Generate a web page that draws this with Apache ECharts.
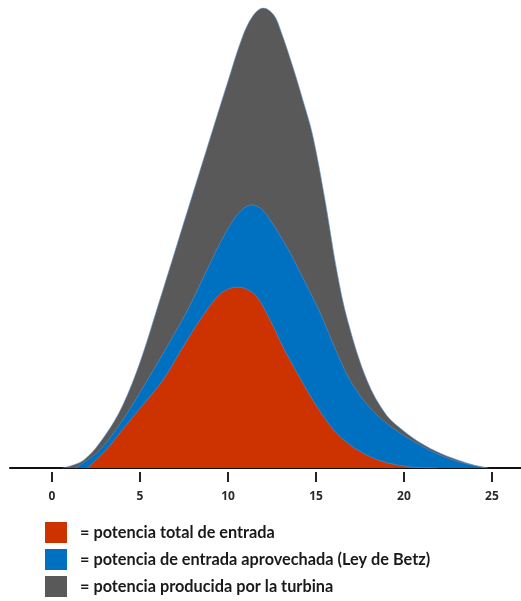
<!DOCTYPE html>
<html>
<head>
<meta charset="utf-8">
<script src="https://cdn.jsdelivr.net/npm/echarts@6/dist/echarts.min.js"></script>
<style>html,body{margin:0;padding:0;background:#fff}#c{width:521px;height:601px}</style>
</head>
<body>
<div id="c"></div>
<script>
// wind speed (x) and relative power (y)
const tickValues = [0, 5, 10, 15, 20, 25];
const seriesNames = [
  'potencia total de entrada',
  'potencia de entrada aprovechada (Ley de Betz)',
  'potencia producida por la turbina'
];
const redX  = [2.0, 3.0, 4.0, 5.0, 6.3, 7.44, 8.41, 9.38, 10.0, 10.57, 11.1, 11.65, 12.39, 13.13, 13.92, 15.2, 16.4, 18.1, 20.0, 21.9];
const redY  = [0, 3.6, 8.3, 13, 19.1, 26.3, 32.2, 37.2, 38.9, 39.3, 38.8, 37.2, 32.2, 26.3, 20.7, 12.5, 6.7, 2.4, 0.4, 0];
const blueX = [1.3, 2.6, 3.9, 5.4, 6.7, 7.8, 8.4, 9.55, 10.3, 10.9, 11.36, 11.9, 12.4, 13.35, 14.1, 15.2, 16.2, 17.1, 18.6, 20.9, 22.8, 24.7];
const blueY = [0, 3.5, 9.8, 19, 27.5, 35, 39.8, 48.9, 53.9, 56.5, 57.2, 56.3, 53.9, 48, 42.5, 34, 25, 18, 11, 5, 1.7, 0];
const grayX = [0.6, 1.8, 3.0, 4.0, 5.0, 6.0, 7.0, 8.0, 9.0, 10.0, 10.8, 11.4, 12.0, 12.6, 13.0, 13.7, 14.25, 14.8, 15.5, 16.2, 16.8, 17.9, 19.0, 20.0, 21.0, 22.0, 23.0, 24.0, 24.8];
const grayY = [0, 1.7, 7, 13.5, 23, 35, 47.3, 59.6, 71.9, 84.1, 93.5, 98.2, 100, 98.5, 95, 87, 80, 72.5, 58.5, 42.5, 32, 19, 11.5, 8, 5.3, 3.3, 1.8, 0.6, 0];

const colors = ['#cc3300', '#0070c0', '#595959'];
function pairs(xs, ys) { return xs.map((x, i) => [x, ys[i]]); }

const chart = echarts.init(document.getElementById('c'), null, {renderer: 'canvas'});
const xMin = -2.39, xMax = 26.65;
function areaSeries(name, data, color) {
  return {
    name: name, type: 'line', data: data, smooth: 0.35, showSymbol: false,
    xAxisIndex: 0, yAxisIndex: 0,
    lineStyle: {width: 1, color: '#5b8fc9', opacity: 0.6},
    itemStyle: {color: color},
    areaStyle: {color: color, opacity: 1},
    emphasis: {disabled: true}
  };
}
chart.setOption({
  animation: false,
  color: colors,
  grid: {left: 10, right: 0, top: 8, bottom: 133},
  legend: {
    orient: 'vertical', left: 45, top: 522, padding: 0,
    itemWidth: 22, itemHeight: 21, itemGap: 6,
    icon: 'rect',
    data: seriesNames,
    formatter: n => '= ' + n,
    textStyle: {fontFamily: 'Lato', fontWeight: 'bold', fontSize: 16.3, color: '#1a1a1a', padding: [0, 0, 0, 8]},
    selectedMode: false
  },
  xAxis: [{
    type: 'value', min: xMin, max: xMax,
    axisLine: {show: true, lineStyle: {color: '#111', width: 2}},
    axisTick: {show: false}, axisLabel: {show: false}, splitLine: {show: false}
  }, {
    type: 'value', min: xMin, max: xMax, position: 'bottom', offset: 4,
    axisLine: {show: false},
    axisTick: {show: true, customValues: tickValues, length: 10, lineStyle: {color: '#222', width: 2}},
    axisLabel: {show: true, customValues: tickValues, margin: 19, fontSize: 12, fontWeight: 'bold', color: '#2a2a2a', fontFamily: 'Open Sans'},
    splitLine: {show: false}
  }],
  yAxis: {type: 'value', min: 0, max: 100, show: false},
  series: [
    areaSeries(seriesNames[2], pairs(grayX, grayY), colors[2]),
    areaSeries(seriesNames[1], pairs(blueX, blueY), colors[1]),
    areaSeries(seriesNames[0], pairs(redX, redY), colors[0])
  ]
});
</script>
</body>
</html>
